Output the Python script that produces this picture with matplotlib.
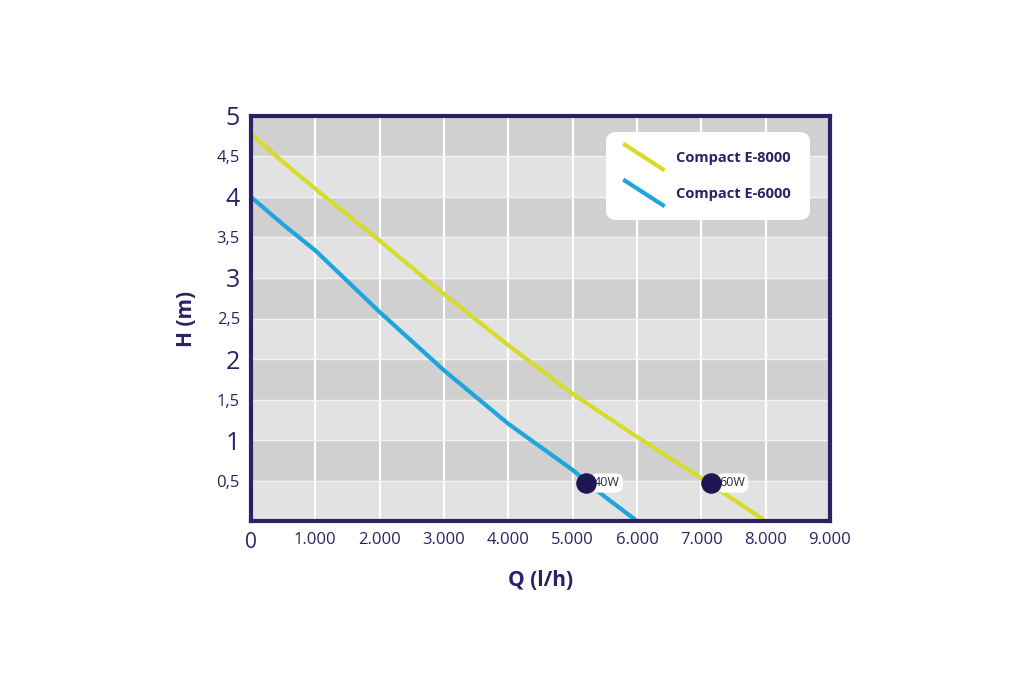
import numpy as np
import matplotlib
matplotlib.use("Agg")
import matplotlib.pyplot as plt
from matplotlib.legend_handler import HandlerLine2D
from matplotlib.lines import Line2D

# flow (l/h) vs head (m)
q_8000 = [0, 500, 1000, 2000, 3000, 4000, 5000, 6000, 7000, 8000]
h_8000 = [4.78, 4.43, 4.1, 3.46, 2.8, 2.17, 1.57, 1.04, 0.53, 0.0]
q_6000 = [0, 500, 1000, 2000, 3000, 4000, 5000, 5500, 6000]
h_6000 = [4.0, 3.66, 3.34, 2.58, 1.86, 1.2, 0.63, 0.3, 0.0]

# operating points
pt_q = [5200, 7150]
pt_h = [0.47, 0.47]
pt_lbl = ["40W", "60W"]

x_ticks = [0, 1000, 2000, 3000, 4000, 5000, 6000, 7000, 8000, 9000]
x_lbls = ["0", "1.000", "2.000", "3.000", "4.000", "5.000", "6.000", "7.000", "8.000", "9.000"]
y_ticks = [0.5, 1, 1.5, 2, 2.5, 3, 3.5, 4, 4.5, 5]
y_lbls = ["0,5", "1", "1,5", "2", "2,5", "3", "3,5", "4", "4,5", "5"]

navy = "#2b2266"
yellow = "#d5dc2b"
blue = "#1ea5dc"
plt.rcParams["font.family"] = "Open Sans"


class SlantHandler(HandlerLine2D):
    def create_artists(self, legend, orig_handle, xdescent, ydescent,
                       width, height, fontsize, trans):
        ln = Line2D([0, width], [height * 1.7, -height * 0.7])
        self.update_prop(ln, orig_handle, legend)
        ln.set_transform(trans)
        return [ln]


fig = plt.figure(figsize=(10.35, 7), dpi=100)
ax = fig.add_axes([0.2425, 0.2557, 0.5594, 0.5786])

# alternating bands
for i, y0 in enumerate(np.arange(0, 5, 0.5)):
    ax.axhspan(y0, y0 + 0.5, color="#d0d0d0" if i % 2 else "#e2e2e2", zorder=0, lw=0)
for xv in x_ticks[1:-1]:
    ax.axvline(xv, color="white", lw=1.6, zorder=1)
for yv in y_ticks[:-1]:
    ax.axhline(yv, color="#f2f2f2", lw=1.0, zorder=1)

ax.plot(q_8000, h_8000, color=yellow, lw=3, zorder=3, label="Compact E-8000")
ax.plot(q_6000, h_6000, color=blue, lw=3, zorder=3, label="Compact E-6000")

ax.scatter(pt_q, pt_h, s=190, color="#1d1650", zorder=5)
for xq, yh, t in zip(pt_q, pt_h, pt_lbl):
    ax.annotate(t, (xq, yh), xytext=(6, 0), textcoords="offset points",
                va="center", ha="left", fontsize=9, color="#2a2a3a", zorder=4,
                bbox=dict(boxstyle="round,pad=0.25,rounding_size=0.6", fc="white", ec="none"))

ax.set_xlim(0, 9000)
ax.set_ylim(0, 5)
ax.set_xticks(x_ticks)
ax.set_xticklabels(x_lbls)
ax.set_yticks(y_ticks)
ax.set_yticklabels(y_lbls)
ax.tick_params(length=0, colors=navy, labelsize=12, pad=8)
for lbl in ax.get_yticklabels():
    if "," not in lbl.get_text():
        lbl.set_fontsize(18)
ax.get_xticklabels()[0].set_fontsize(15)

for sp in ax.spines.values():
    sp.set_color(navy)
    sp.set_linewidth(3)
    sp.set_zorder(6)

ax.set_xlabel("Q (l/h)", fontsize=15, fontweight="bold", color=navy, labelpad=12)
ax.set_ylabel("H (m)", fontsize=15, fontweight="bold", color=navy, labelpad=14)

leg = ax.legend(loc="upper right", bbox_to_anchor=(0.965, 0.96), borderaxespad=0,
                fontsize=10.5, handler_map={Line2D: SlantHandler()}, handlelength=2.6,
                handletextpad=0.9, labelspacing=1.5, borderpad=1.3, fancybox=True,
                framealpha=1, edgecolor="none")
leg.get_frame().set_boxstyle("round,pad=0,rounding_size=0.7")
for t in leg.get_texts():
    t.set_color(navy)
    t.set_fontweight("bold")

fig.savefig("out.png", dpi=100, facecolor="white")
